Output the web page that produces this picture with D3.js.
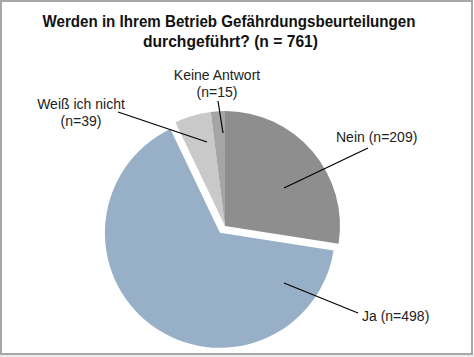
<!DOCTYPE html>
<html><head><meta charset="utf-8">
<script src="https://cdn.jsdelivr.net/npm/d3@7"></script>
<style>html,body{margin:0;padding:0;background:#fff}svg{display:block}</style>
</head><body>
<script>
const categories = ["Nein", "Ja", "Weiß ich nicht", "Keine Antwort"];
const values = [209, 498, 39, 15];
const labelLines = [["Nein (n=209)"], ["Ja (n=498)"], ["Weiß ich nicht", "(n=39)"], ["Keine Antwort", "(n=15)"]];
const titleLines = ["Werden in Ihrem Betrieb Gefährdungsbeurteilungen", "durchgeführt? (n = 761)"];

const colors = ["#8e8e8e", "#97afc7", "#c9c9c9", "#a5a5a5"];
const W = 474, H = 357;
const cx = 225, cy = 226, R = 115, explode = 8.5;
const exploded = [false, true, false, false];
// label layout: text anchor point and leader line endpoints
const layout = [
  {tx: 336, ty: 142, anchor: "start", l: [[368,148],[284,188]]},
  {tx: 362, ty: 321, anchor: "start", l: [[358,313],[284,283]]},
  {tx: 81,  ty: 109, anchor: "middle", l: [[118,112],[207,142]]},
  {tx: 217, ty: 80,  anchor: "middle", l: [[218,101],[223,133]]}
];

const svg = d3.select("body").append("svg").attr("width", W).attr("height", H);
svg.append("rect").attr("x",0).attr("y",0).attr("width",W).attr("height",H).attr("fill","#fff");
// frame
svg.append("rect").attr("x",0).attr("y",354).attr("width",W).attr("height",3).attr("fill","#ececec");
svg.append("rect").attr("x",1).attr("y",1).attr("width",W-3).attr("height",H-4)
  .attr("fill","none").attr("stroke","#a8a8a8").attr("stroke-width",2);

const font = "'Liberation Sans', Arial, sans-serif";
const title = svg.append("text").attr("font-family", font).attr("font-weight","bold")
  .attr("font-size", 16).attr("fill","#111").attr("text-anchor","middle");
const tl1 = title.append("tspan").attr("x", 229).attr("y", 27).text(titleLines[0]);
const tl2 = title.append("tspan").attr("x", 230.5).attr("y", 47).text(titleLines[1]);
// fit widths to the reference's condensed face
[[tl1,373],[tl2,175]].forEach(([t,w]) => {
  t.attr("textLength", w).attr("lengthAdjust","spacingAndGlyphs");
});

const pie = d3.pie().sort(null).value(d => d)(values);
const arc = d3.arc().innerRadius(0).outerRadius(R);

const g = svg.append("g");
g.selectAll("path").data(pie).join("path")
  .attr("d", arc)
  .attr("fill", (d,i) => colors[i])
  .attr("transform", (d,i) => {
    let dx = 0, dy = 0;
    if (exploded[i]) {
      const a = (d.startAngle + d.endAngle) / 2;
      dx = Math.sin(a) * explode; dy = -Math.cos(a) * explode;
    }
    return `translate(${cx+dx},${cy+dy})`;
  });

// leader lines
svg.selectAll("line.leader").data(layout).join("line").attr("class","leader")
  .attr("x1", d => d.l[0][0]).attr("y1", d => d.l[0][1])
  .attr("x2", d => d.l[1][0]).attr("y2", d => d.l[1][1])
  .attr("stroke","#000").attr("stroke-width",1.2);

// labels
layout.forEach((L, i) => {
  const t = svg.append("text").attr("font-family", font).attr("font-size", 14)
    .attr("fill","#222").attr("text-anchor", L.anchor);
  labelLines[i].forEach((s, k) => {
    t.append("tspan").attr("x", L.tx).attr("y", L.ty + k*17).text(s);
  });
});
</script>
</body></html>
